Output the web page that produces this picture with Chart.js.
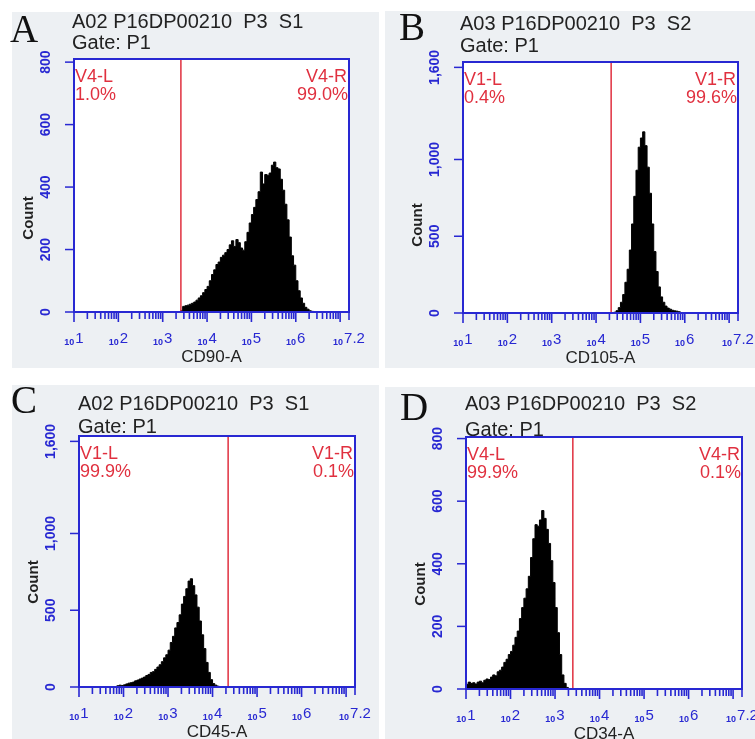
<!DOCTYPE html>
<html>
<head>
<meta charset="utf-8">
<script src="https://cdn.jsdelivr.net/npm/chart.js@4.4.1/dist/chart.umd.min.js"></script>
<style>
  html, body { margin: 0; padding: 0; background: #fff; }
  #wrap { position: relative; width: 755px; height: 739px; overflow: hidden; }
  .bg { position: absolute; background: #edf0f3; }
  canvas { position: absolute; left: 0; top: 0; }
</style>
</head>
<body>
<div id="wrap">
  <div class="bg" style="left:12px;top:12px;width:367px;height:356px"></div>
  <div class="bg" style="left:385px;top:11px;width:370px;height:357px"></div>
  <div class="bg" style="left:12px;top:385px;width:367px;height:354px"></div>
  <div class="bg" style="left:385px;top:387px;width:370px;height:352px"></div>
  <canvas id="cA" width="755" height="739"></canvas>
  <canvas id="cB" width="755" height="739"></canvas>
  <canvas id="cC" width="755" height="739"></canvas>
  <canvas id="cD" width="755" height="739"></canvas>
</div>
<script>
// histogram bins: log10 of the first bin edge, bin width in decades
const binStep = 0.05;

// A - CD90
const startA = 3.40;
const countsA = [5, 18, 20, 22, 25, 28, 32, 38, 45, 52, 62, 72, 82, 100, 120, 135, 152, 160, 175, 182,
  190, 200, 215, 228, 210, 232, 222, 205, 198, 225, 255, 285, 312, 335, 360, 385, 448, 410, 440, 438,
  445, 470, 480, 462, 458, 425, 390, 345, 295, 240, 180, 150, 100, 68, 45, 28, 15, 9, 4, 2, 0];

// B - CD105
const startB = 4.35;
const countsB = [0, 5, 15, 35, 70, 120, 200, 285, 410, 580, 760, 930, 1080, 1140, 1180, 1090, 950, 780,
  580, 400, 270, 170, 105, 70, 45, 32, 25, 18, 14, 12, 8, 3, 0];

// C - CD45
const startC = 1.80;
const countsC = [0, 8, 12, 10, 14, 20, 25, 28, 32, 40, 45, 52, 58, 65, 75, 82, 95, 100, 115, 130, 145,
  165, 190, 210, 240, 290, 330, 385, 420, 470, 540, 590, 640, 690, 705, 660, 600, 520, 430, 340, 250,
  160, 95, 48, 22, 12, 5, 0];

// D - CD34
const startD = 1.00;
const countsD = [15, 22, 18, 20, 16, 22, 25, 20, 28, 32, 30, 38, 45, 42, 55, 60, 70, 85, 95, 110, 120,
  140, 165, 185, 225, 260, 290, 320, 360, 420, 480, 525, 520, 540, 570, 545, 510, 465, 410, 340, 260,
  180, 110, 45, 18, 5, 0];

// axis ticks
const xTickExp = [1, 2, 3, 4, 5, 6, 7.2];
const xTickLabels = ['1', '2', '3', '4', '5', '6', '7.2'];
const yTicksSmall = [0, 200, 400, 600, 800];
const yTicksLarge = [0, 500, 1000, 1600];
const yLabelsLarge = ['0', '500', '1,000', '1,600'];

// texts
const titles = ['A02 P16DP00210  P3  S1', 'A03 P16DP00210  P3  S2', 'A02 P16DP00210  P3  S1', 'A03 P16DP00210  P3  S2'];
const markers = ['CD90-A', 'CD105-A', 'CD45-A', 'CD34-A'];
const gateNames = ['V4', 'V1', 'V1', 'V4'];
const gateLeft = ['1.0%', '0.4%', '99.9%', '99.9%'];
const gateRight = ['99.0%', '99.6%', '0.1%', '0.1%'];
const gatePos = [3.41, 4.34, 4.35, 3.40];

const blue = '#2828d2';
const red = '#e0303f';
const ink = '#222';

// page-level geometry of each panel: plot box [left, right, top, bottom]
const panels = [
  { id: 'cA', letter: 'A', area: [74, 349, 59, 312], letterXY: [10, 42], titleXY: [72, 28], gateY: 49, yMax: 810, countY: 218 },
  { id: 'cB', letter: 'B', area: [463, 738, 62, 313], letterXY: [399, 40], titleXY: [460, 30], gateY: 52, yMax: 1635, countY: 225 },
  { id: 'cC', letter: 'C', area: [79, 355, 436, 687], letterXY: [11, 413], titleXY: [78, 410], gateY: 433, yMax: 1635, countY: 582 },
  { id: 'cD', letter: 'D', area: [466, 742, 437, 689], letterXY: [400, 420], titleXY: [465, 410], gateY: 436, yMax: 805, countY: 584 }
];

function toPoints(start, counts) {
  return counts.map((c, i) => ({ x: Math.pow(10, start + i * binStep), y: c }));
}

const flowAxes = {
  id: 'flowAxes',
  beforeDraw(chart, args, o) {
    const { ctx, chartArea: a } = chart;
    ctx.save();
    ctx.fillStyle = '#fff';
    ctx.fillRect(a.left, a.top, a.right - a.left, a.bottom - a.top);
    ctx.restore();
  },
  afterDatasetsDraw(chart, args, o) {
    const { ctx, chartArea: a, scales: { x, y } } = chart;
    const p = o.panel;
    ctx.save();

    // gate line
    const gx = x.getPixelForValue(Math.pow(10, o.gate));
    ctx.strokeStyle = red;
    ctx.lineWidth = 1.5;
    ctx.beginPath();
    ctx.moveTo(gx, a.top);
    ctx.lineTo(gx, a.bottom);
    ctx.stroke();

    // plot box
    ctx.strokeStyle = blue;
    ctx.lineWidth = 2;
    ctx.strokeRect(a.left, a.top, a.right - a.left, a.bottom - a.top);

    // x ticks (log decades with minors)
    ctx.lineWidth = 1.6;
    for (let n = 1; n <= 7; n++) {
      for (let k = 1; k <= 9; k++) {
        const v = k * Math.pow(10, n);
        if (v > x.max * 1.0001) break;
        const px = x.getPixelForValue(v);
        ctx.beginPath();
        ctx.moveTo(px, a.bottom);
        ctx.lineTo(px, a.bottom + (k === 1 ? 10 : 7));
        ctx.stroke();
      }
    }
    const ex = x.getPixelForValue(x.max);
    ctx.beginPath();
    ctx.moveTo(ex, a.bottom);
    ctx.lineTo(ex, a.bottom + 8);
    ctx.stroke();

    // x tick labels: small "10" plus exponent
    ctx.fillStyle = blue;
    ctx.textBaseline = 'alphabetic';
    ctx.textAlign = 'left';
    const smallFont = 'bold 9px "Liberation Sans", Arial, sans-serif';
    const expFont = '15px "Liberation Sans", Arial, sans-serif';
    xTickExp.forEach((e, i) => {
      const px = x.getPixelForValue(Math.pow(10, e));
      ctx.font = smallFont;
      const w10 = ctx.measureText('10').width;
      ctx.font = expFont;
      const we = ctx.measureText(xTickLabels[i]).width;
      const x0 = px - (w10 + 1 + we) / 2;
      ctx.font = smallFont;
      ctx.fillText('10', x0, a.bottom + 33);
      ctx.font = expFont;
      ctx.fillText(xTickLabels[i], x0 + w10 + 1, a.bottom + 31);
    });

    // y ticks and rotated labels
    ctx.strokeStyle = blue;
    ctx.lineWidth = 1.5;
    o.yTicks.forEach((t, i) => {
      const py = y.getPixelForValue(t);
      ctx.beginPath();
      ctx.moveTo(a.left - 9, py);
      ctx.lineTo(a.left, py);
      ctx.stroke();
      ctx.save();
      ctx.translate(a.left - 28, py);
      ctx.rotate(-Math.PI / 2);
      ctx.font = 'bold 14px "Liberation Sans", Arial, sans-serif';
      ctx.textAlign = 'center';
      ctx.textBaseline = 'middle';
      ctx.fillStyle = blue;
      ctx.fillText(o.yLabels[i], 0, 0);
      ctx.restore();
    });

    // axis titles
    ctx.save();
    ctx.translate(a.left - 45, p.countY);
    ctx.rotate(-Math.PI / 2);
    ctx.font = 'bold 15px "Liberation Sans", Arial, sans-serif';
    ctx.textAlign = 'center';
    ctx.textBaseline = 'middle';
    ctx.fillStyle = ink;
    ctx.fillText('Count', 0, 0);
    ctx.restore();

    ctx.font = '17px "Liberation Sans", Arial, sans-serif';
    ctx.textAlign = 'center';
    ctx.textBaseline = 'middle';
    ctx.fillStyle = ink;
    ctx.fillText(o.marker, (a.left + a.right) / 2, a.bottom + 45);

    // gate region labels
    ctx.font = '18px "Liberation Sans", Arial, sans-serif';
    ctx.fillStyle = red;
    ctx.textBaseline = 'alphabetic';
    ctx.textAlign = 'left';
    ctx.fillText(o.gateName + '-L', a.left + 1, a.top + 23);
    ctx.fillText(o.left, a.left + 1, a.top + 41);
    ctx.textAlign = 'right';
    ctx.fillText(o.gateName + '-R', a.right - 2, a.top + 23);
    ctx.fillText(o.right, a.right - 1, a.top + 41);

    // header
    ctx.textAlign = 'left';
    ctx.fillStyle = '#111';
    ctx.font = '39px "Liberation Serif", "Times New Roman", serif';
    ctx.fillText(p.letter, p.letterXY[0], p.letterXY[1]);
    ctx.fillStyle = ink;
    ctx.font = '20px "Liberation Sans", Arial, sans-serif';
    ctx.fillText(o.title, p.titleXY[0], p.titleXY[1]);
    ctx.fillText('Gate: P1', p.titleXY[0], p.gateY);

    ctx.restore();
  }
};

const starts = [startA, startB, startC, startD];
const counts = [countsA, countsB, countsC, countsD];

panels.forEach((p, i) => {
  const large = p.yMax > 1000;
  new Chart(document.getElementById(p.id), {
    type: 'line',
    data: {
      datasets: [{
        label: markers[i],
        data: toPoints(starts[i], counts[i]),
        stepped: true,
        fill: 'origin',
        borderColor: '#000',
        backgroundColor: '#000',
        borderWidth: 1,
        pointRadius: 0
      }]
    },
    options: {
      responsive: false,
      animation: false,
      events: [],
      layout: {
        padding: { left: p.area[0], right: 755 - p.area[1], top: p.area[2], bottom: 739 - p.area[3] }
      },
      scales: {
        x: { type: 'logarithmic', min: 10, max: Math.pow(10, 7.2), display: false },
        y: { type: 'linear', min: 0, max: p.yMax, display: false }
      },
      plugins: {
        legend: { display: false },
        tooltip: { enabled: false },
        flowAxes: {
          panel: p,
          gate: gatePos[i],
          gateName: gateNames[i],
          left: gateLeft[i],
          right: gateRight[i],
          marker: markers[i],
          title: titles[i],
          yTicks: large ? yTicksLarge : yTicksSmall,
          yLabels: large ? yLabelsLarge : yTicksSmall.map(String)
        }
      }
    },
    plugins: [flowAxes]
  });
});
</script>
</body>
</html>
